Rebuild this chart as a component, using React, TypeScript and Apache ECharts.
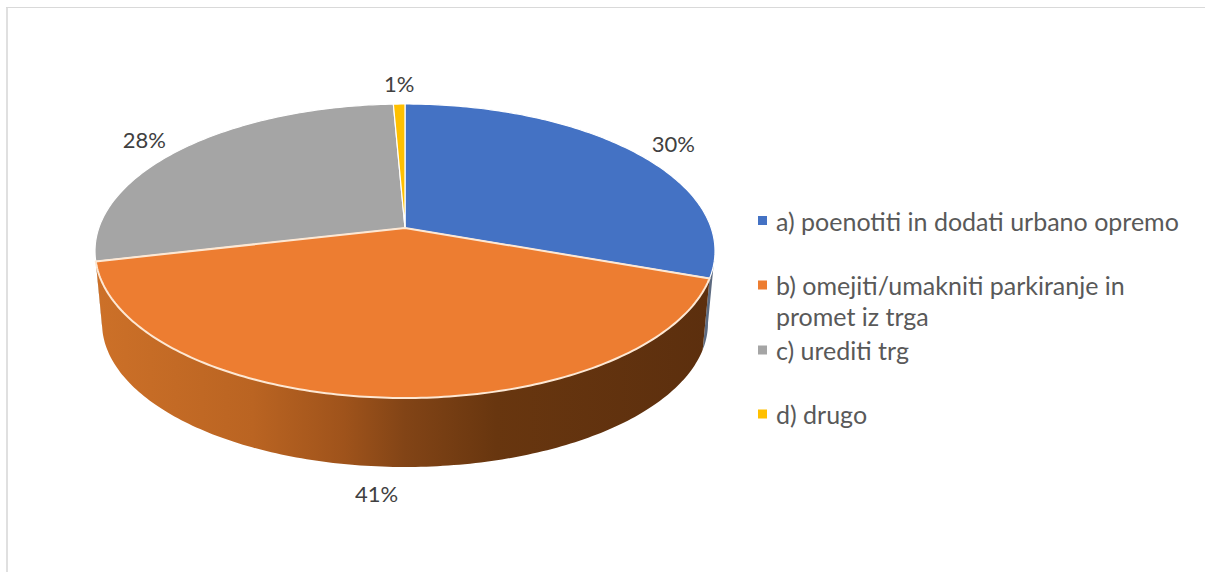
import React, { useEffect, useRef } from "react";
import * as echarts from "echarts";

const names = [
  "a) poenotiti in dodati urbano opremo",
  "b) omejiti/umakniti parkiranje in\npromet iz trga",
  "c) urediti trg",
  "d) drugo",
];
const values = [30.4, 41.0, 27.9, 0.7];
const colors = ["#4472C4", "#ED7D31", "#A5A5A5", "#FFC000"];
const labelOffsets = [[39, -9], [-8, 96], [-38, -9], [0, -21]];
const legendTops = [205, 269.5, 334.5, 398.5];

const FONT = "Lato";
const CX = 405;
const TOP = { cy: 251, rx: 310, ry: 147 };
const BOTTOM = { cy: 323, rx: 303, ry: 144 };
const A = -0.156; // perspective: apex sits above the ellipse centre
const S = Math.sqrt(1 - A * A);

const project = (pct: number, e: { cy: number; rx: number; ry: number }) => {
  const t = (pct / 100) * Math.PI * 2;
  const u = Math.sin(t);
  const v = -Math.cos(t);
  const d = 1 + A * v;
  return [CX + (e.rx * u * S) / d, e.cy + (e.ry * (v + A)) / d];
};
const arc = (from: number, to: number, e: typeof TOP) => {
  const n = Math.max(2, Math.ceil(Math.abs(to - from) * 4));
  const pts: number[][] = [];
  for (let i = 0; i <= n; i++) pts.push(project(from + ((to - from) * i) / n, e));
  return pts;
};

const starts: number[] = [];
values.reduce((acc, v, i) => ((starts[i] = acc), acc + v), 0);

const wallFill = (i: number) => {
  if (i === 1)
    return new echarts.graphic.LinearGradient(
      100, 0, 710, 0,
      [
        { offset: 0, color: "#CC7028" },
        { offset: 0.25, color: "#BA6422" },
        { offset: 0.4, color: "#9F531B" },
        { offset: 0.5, color: "#824416" },
        { offset: 0.65, color: "#68360F" },
        { offset: 1, color: "#5C2F0E" },
      ],
      true
    );
  return i === 0 ? "#5C6A80" : "#8A7A6A";
};
const wallRange = (s: number, e: number): [number, number] | null => {
  // only the part of the rim that faces the viewer has a visible wall
  const a = Math.max(s, 27.5);
  const b = Math.min(e, 72.5);
  return a < b ? [a, b] : null;
};

const makeRender = (i: number) => () => {
  const s = starts[i];
  const e = s + values[i];
  const children: any[] = [];
  const range = wallRange(s, e);
  if (range) {
    children.push({
      type: "polygon",
      shape: {
        points: [...arc(range[0], range[1], TOP), ...arc(range[1], range[0], BOTTOM)],
      },
      style: { fill: wallFill(i) },
    });
  }
  children.push({
    type: "polygon",
    shape: { points: [[CX, TOP.cy + TOP.ry * A], ...arc(s, e, TOP)] },
    style: {
      fill: colors[i],
      stroke: i === 1 ? "#FDE8D4" : "#FFFFFF",
      lineWidth: i === 1 ? 2 : 1.2,
      lineJoin: "round",
    },
  });
  const mid = project(s + values[i] / 2, TOP);
  children.push({
    type: "text",
    style: {
      text: Math.round(values[i]) + "%",
      x: mid[0] + labelOffsets[i][0],
      y: mid[1] + labelOffsets[i][1],
      align: "center",
      verticalAlign: "middle",
      fill: "#404040",
      font: `22px ${FONT}`,
    },
    z2: 10,
  });
  return { type: "group", children };
};

// A 9x9 square near the top of the icon box, so it lines up with the first text line.
const legendIcon = "path://M0,11H9V20H0Z M0,0H13Z";
const iconFor = (h: number) => `${legendIcon} M0,${h}H13Z`;

export default function App() {
  const ref = useRef<HTMLDivElement>(null);
  useEffect(() => {
    document.body.style.margin = "0";
    const chart = echarts.init(ref.current!, null, { renderer: "svg" });
    chart.setOption({
      animation: false,
      backgroundColor: "#FFFFFF",
      legend: names.map((name, i) => {
        const h = name.includes("\n") ? 62 : 31;
        return {
          data: [name],
          left: 758,
          top: legendTops[i],
          padding: 0,
          orient: "vertical",
          icon: iconFor(h),
          itemWidth: 13,
          itemHeight: h,
          itemGap: 0,
          selectedMode: false,
          textStyle: {
            fontFamily: FONT,
            fontSize: 25,
            color: "#595959",
            lineHeight: 31,
          },
        };
      }),
      graphic: [
        { type: "line", shape: { x1: 7, y1: 7, x2: 7, y2: 572 }, style: { stroke: "#E0E0E0", lineWidth: 2 } },
        { type: "line", shape: { x1: 6, y1: 7.5, x2: 1205, y2: 7.5 }, style: { stroke: "#D9D9D9", lineWidth: 1 } },
      ],
      series: names.map((name, i) => ({
        type: "custom",
        name,
        coordinateSystem: "none",
        z: i === 1 ? 5 : 3,
        itemStyle: { color: colors[i] },
        data: [values[i]],
        renderItem: makeRender(i),
      })),
    });
    return () => chart.dispose();
  }, []);
  return (
    <div
      ref={ref}
      style={{ position: "absolute", left: 0, top: 0, width: 1213, height: 572 }}
    />
  );
}
